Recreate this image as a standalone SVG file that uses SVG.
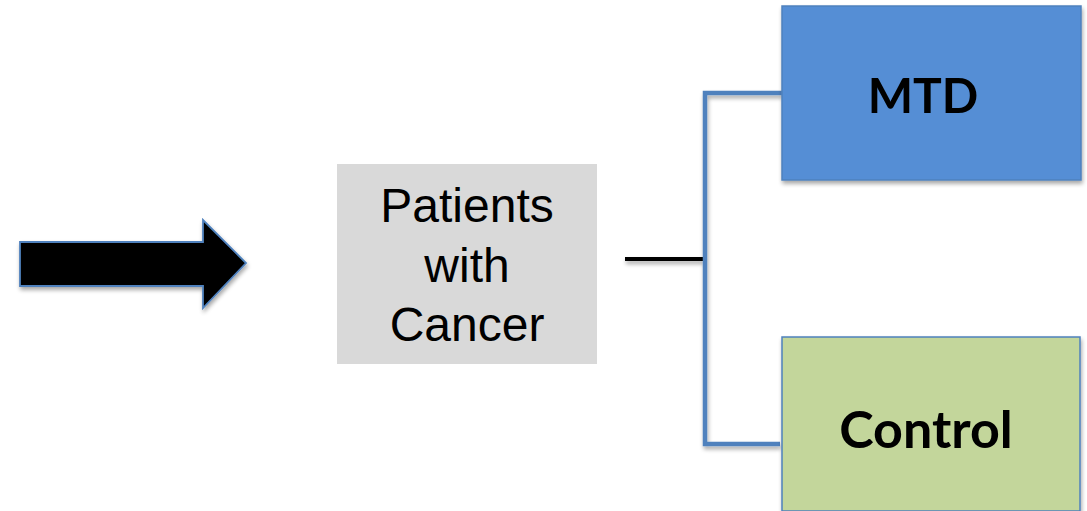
<svg xmlns="http://www.w3.org/2000/svg" width="1087" height="511" viewBox="0 0 1087 511">
  <style>
    .plain { font-family: "Liberation Sans", Arial, sans-serif; font-size: 48px; fill: #000; text-anchor: middle; }
    .bold { font-family: Lato, "Open Sans", sans-serif; font-weight: bold; font-size: 48px; fill: #000; text-anchor: middle; }
    .bold.big { font-size: 52px; }
    .edge { fill: none; stroke: #4f81bd; stroke-width: 4.5; }
  </style>
  <defs>
    <filter id="shadow" x="-10%" y="-10%" width="130%" height="130%">
      <feGaussianBlur in="SourceAlpha" stdDeviation="2"/>
      <feOffset dx="1" dy="3" result="blur"/>
      <feComponentTransfer><feFuncA type="linear" slope="0.35"/></feComponentTransfer>
      <feMerge><feMergeNode/><feMergeNode in="SourceGraphic"/></feMerge>
    </filter>
  </defs>
  <rect width="1087" height="511" fill="#ffffff"/>

  <!-- block arrow on the left -->
  <g id="input-arrow" filter="url(#shadow)">
    <polygon points="20,242 203,242 203,220 246,263 203,308 203,286 20,286" fill="#000" stroke="#4f81bd" stroke-width="1.8" stroke-linejoin="miter"/>
  </g>

  <g id="patients">
    <rect x="337" y="164" width="260" height="200" fill="#d9d9d9"/>
    <text class="plain" x="467" y="222">Patients</text>
    <text class="plain" x="467" y="282">with</text>
    <text class="plain" x="467" y="341">Cancer</text>
  </g>

  <g id="connectors" filter="url(#shadow)">
    <line x1="625" y1="259" x2="705" y2="259" stroke="#000" stroke-width="4"/>
    <polyline class="edge" points="782,93 705,93 705,444 780,444"/>
  </g>

  <g id="mtd" filter="url(#shadow)">
    <rect x="782" y="6" width="299" height="174" fill="#558ed5" stroke="#4f81bd" stroke-width="1.5"/>
    <text class="bold" x="923" y="113">MTD</text>
  </g>

  <g id="control" filter="url(#shadow)">
    <rect x="782" y="337" width="298" height="174" fill="#c3d69b" stroke="#4f81bd" stroke-width="1.5"/>
    <text class="bold big" x="926" y="448">Control</text>
  </g>
</svg>
